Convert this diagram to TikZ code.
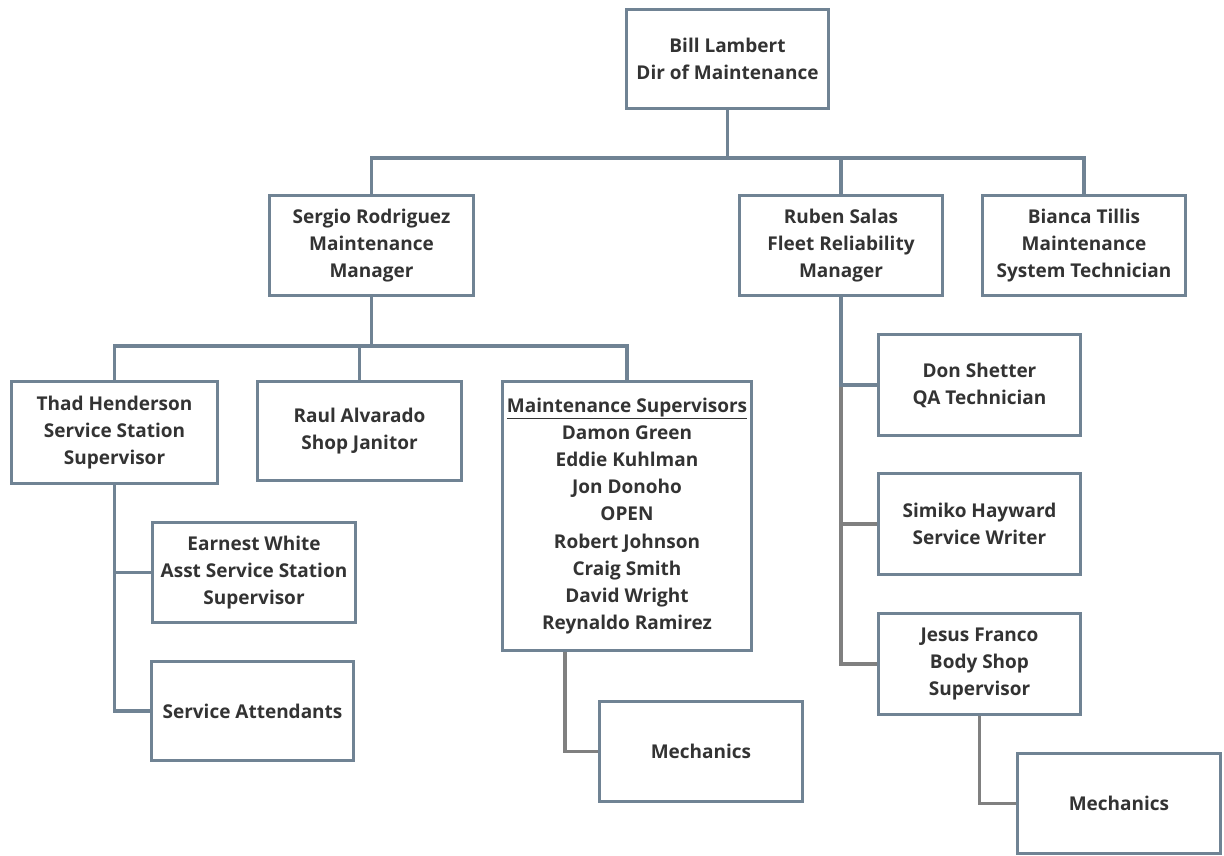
\documentclass[tikz,border=0pt]{standalone}
\usepackage{fontspec}
\setmainfont{Open Sans}
\usetikzlibrary{backgrounds}
\definecolor{boxc}{RGB}{112,131,148}
\definecolor{grayc}{RGB}{128,128,128}
\definecolor{txt}{RGB}{51,51,51}
\tikzset{
  box/.style={draw=boxc, line width=3.5pt, fill=white, align=center, inner sep=0pt,
    text=txt, font=\bfseries\fontsize{19}{27.2}\selectfont},
  conn/.style={draw=boxc, line width=3.5pt},
  gconn/.style={draw=grayc, line width=3.5pt},
}
\begin{document}
\begin{tikzpicture}[x=1pt,y=-1pt]
\useasboundingbox (0,0) rectangle (1224,856);
\node[box, minimum width=202, minimum height=99] (bill) at (727.5,59) {Bill Lambert\\Dir of Maintenance};
\node[box, minimum width=204, minimum height=100] (sergio) at (371.5,245.5) {Sergio Rodriguez\\Maintenance\\Manager};
\node[box, minimum width=203, minimum height=100] (ruben) at (841,245.5) {Ruben Salas\\Fleet Reliability\\Manager};
\node[box, minimum width=203, minimum height=100] (bianca) at (1084,245.5) {Bianca Tillis\\Maintenance\\System Technician};
\node[box, minimum width=206, minimum height=102] (thad) at (114.5,432.5) {Thad Henderson\\Service Station\\Supervisor};
\node[box, minimum width=204, minimum height=99] (raul) at (359.5,431) {Raul Alvarado\\Shop Janitor};
\node[box, minimum width=249, minimum height=269] (maint) at (627,516) {\underline{Maintenance Supervisors}\\Damon Green\\Eddie Kuhlman\\Jon Donoho\\OPEN\\Robert Johnson\\Craig Smith\\David Wright\\Reynaldo Ramirez};
\node[box, minimum width=203, minimum height=100] (earnest) at (254,572.5) {Earnest White\\Asst Service Station\\Supervisor};
\node[box, minimum width=202, minimum height=99] (attend) at (252.5,711) {Service Attendants};
\node[box, minimum width=203, minimum height=100] (mecha) at (701,751.5) {Mechanics};
\node[box, minimum width=202, minimum height=101] (don) at (979.5,385) {Don Shetter\\QA Technician};
\node[box, minimum width=202, minimum height=101] (simiko) at (979.5,524) {Simiko Hayward\\Service Writer};
\node[box, minimum width=202, minimum height=101] (jesus) at (979.5,664) {Jesus Franco\\Body Shop\\Supervisor};
\node[box, minimum width=203, minimum height=100] (mechb) at (1119,803.5) {Mechanics};
\coordinate (bus1) at (727.5,158);
\coordinate (bus2) at (371.5,346);
\begin{scope}[on background layer]
\draw[conn] (bill.south) -- (bus1);
\draw[conn] (sergio.north) |- (bus1) -| (bianca.north);
\draw[conn] (ruben.north) -- (ruben.north |- bus1);
\draw[conn] (sergio.south) -- (bus2);
\draw[conn] (thad.north) |- (bus2) -| (maint.north);
\draw[conn] (raul.north) -- (raul.north |- bus2);
\draw[conn] (thad.south) |- (earnest.west);
\draw[conn] (thad.south) |- (attend.west);
\draw[gconn] ([xshift=-62pt]maint.south) |- (mecha.west);
\draw[gconn] (ruben.south |- don.west) |- (simiko.west);
\draw[gconn] (ruben.south |- don.west) |- (jesus.west);
\draw[conn] (ruben.south) |- (don.west);
\draw[gconn] (jesus.south) |- (mechb.west);
\end{scope}
\end{tikzpicture}
\end{document}
